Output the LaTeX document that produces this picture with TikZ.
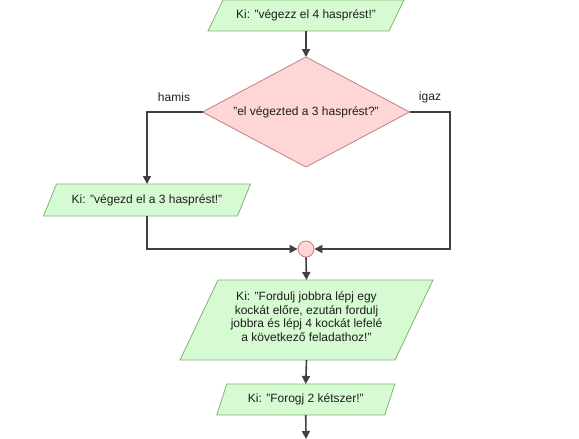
\documentclass[tikz,border=0pt]{standalone}
\usepackage{fontspec}
\setmainfont{Liberation Sans}
\usetikzlibrary{arrows.meta,calc}
\definecolor{grfill}{RGB}{214,250,210}
\definecolor{grline}{RGB}{130,180,110}
\definecolor{pkfill}{RGB}{255,214,214}
\definecolor{pkline}{RGB}{190,130,130}
\definecolor{conn}{RGB}{64,64,64}
\definecolor{txt}{RGB}{30,30,30}
\tikzset{
  box/.style={rectangle,inner sep=0pt,outer sep=0pt,text=txt,font=\fontsize{12}{13.5}\selectfont,align=center},
  arr/.style={draw=conn,line width=1.6pt,-{Triangle[length=8pt,width=8pt]}},
  ln/.style={draw=conn,line width=1.6pt},
  lbl/.style={text=txt,font=\fontsize{12}{14}\selectfont,inner sep=0pt},
}
\newcommand{\mypara}[3]{% name, slant, colours
  \filldraw[fill=grfill,draw=grline,line width=0.8pt]
    ($(#1.north west)+(#2/2,0)$) -- ($(#1.north east)+(#2/2,0)$) --
    ($(#1.south east)-(#2/2,0)$) -- ($(#1.south west)-(#2/2,0)$) -- cycle;}
\begin{document}
\begin{tikzpicture}[x=1pt,y=-1pt]
\useasboundingbox (0,0) rectangle (579,439);
% nodes (text holders)
\node[box,minimum width=181,minimum height=31] (top) at (306,15.5) {};
\node[box,minimum width=207,minimum height=110] (dec) at (306,112) {};
\node[box,minimum width=194,minimum height=32] (left) at (147,200) {};
\node[circle,fill=pkfill,draw=pkline,line width=0.8pt,minimum size=16,inner sep=0pt] (circ) at (306,249) {};
\node[box,minimum width=215,minimum height=80] (big) at (306.5,320) {};
\node[box,minimum width=168,minimum height=31] (small) at (305.75,399.5) {};
% shapes
\mypara{top}{15}{}
\mypara{left}{13}{}
\mypara{big}{38}{}
\mypara{small}{10}{}
\filldraw[fill=pkfill,draw=pkline,line width=0.8pt]
  (dec.north) -- (dec.east) -- (dec.south) -- (dec.west) -- cycle;
% texts
\node[box] at (top) {Ki: "végezz el 4 hasprést!"};
\node[box] at (dec) {"el végezted a 3 hasprést?"};
\node[box] at (left) {Ki: "végezd el a 3 hasprést!"};
\node[box] at ($(big)+(0,-3.5)$) {Ki: "Fordulj jobbra lépj egy\\kockát előre, ezután fordulj\\jobbra és lépj 4 kockát lefelé\\a következő feladathoz!"};
\node[box] at (small) {Ki: "Forogj 2 kétszer!"};
\node[lbl] (hamis) at (174,97) {hamis};
\node[lbl] (igaz) at (430,97) {igaz};
% connectors
\coordinate (rc) at (450,112);
\coordinate (endp) at (306,439);
\draw[arr] (top.south) -- (dec.north);
\draw[arr] (dec.west) -| (left.north);
\draw[arr] (dec.east) -- (rc) |- (circ.east);
\draw[arr] (left.south) |- (circ.west);
\draw[arr] (circ.south) -- (big.north);
\draw[arr] (big.south) -- (small.north);
\draw[arr] (small.south) -- (endp);
\end{tikzpicture}
\end{document}
